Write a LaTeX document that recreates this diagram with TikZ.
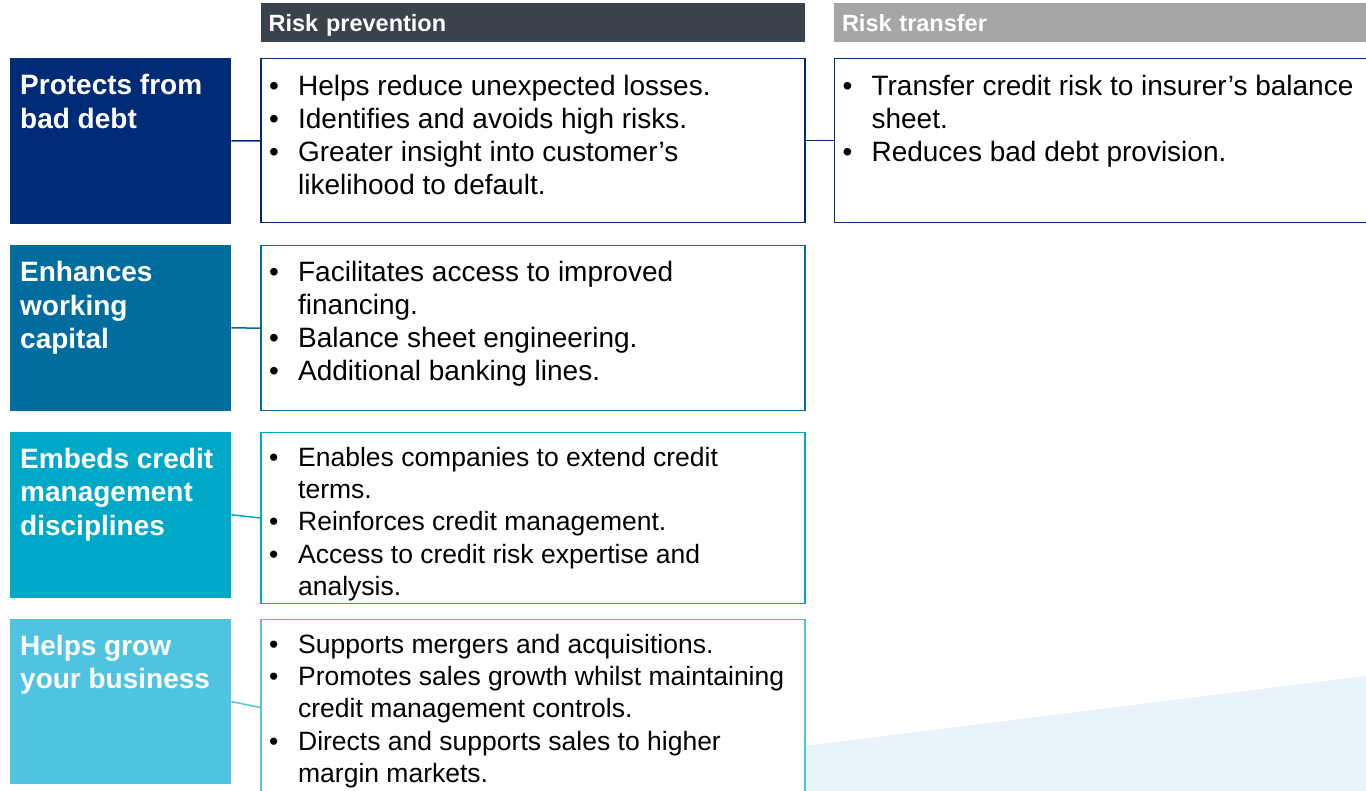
\documentclass[tikz,border=0pt]{standalone}
\usepackage{fontspec}
\setmainfont{Liberation Sans}
\usetikzlibrary{positioning}

\definecolor{navy}{HTML}{002C77}
\definecolor{ocean}{HTML}{006D9E}
\definecolor{lagoon}{HTML}{00A8C8}
\definecolor{sky}{HTML}{4FC3E0}
\definecolor{slate}{HTML}{3A434B}
\definecolor{ash}{HTML}{A6A6A6}
\definecolor{mist}{HTML}{E8F4FA}

% one bullet point, hanging indent after the first line
\newcommand{\bul}[1]{\noindent\hangindent=29pt\hangafter=1\strut\makebox[29pt][l]{\textbullet}#1\par}
% fixed-size cell, text starts at the top: height, width, top gap, text
\newcommand{\cellbox}[4]{\parbox[t][#1][t]{#2}{\vspace*{#3}#4}}
% body text, the lower two boxes are set a little tighter
\newcommand{\roomy}{\fontsize{28}{33}\selectfont}
\newcommand{\snug}{\fontsize{26.5}{32.2}\selectfont}

\begin{document}
\begin{tikzpicture} [
	node distance=21pt,
	aim/.style={
		rectangle,fill=#1,text=white,inner xsep=10pt,inner ysep=0pt,
		font=\fontsize{28}{33.5}\selectfont\bfseries
	},
	perks/.style={
		rectangle,draw=#1,line width=1.5pt,fill=white,
		inner xsep=8pt,inner ysep=0pt,font=\roomy
	},
	banner/.style={
		rectangle,fill=#1,text=white,inner xsep=8pt,inner ysep=0pt,
		text height=29pt,text depth=10pt,align=left,
		font=\fontsize{23.5}{28}\selectfont\bfseries
	},
	tie/.style={draw=#1,line width=1.5pt}
]
\fill [white] (0pt,0pt) rectangle (1366pt,-791pt);
\useasboundingbox (0pt,0pt) rectangle (1366pt,-791pt);
% pale wedge in the lower right corner
\fill [mist] (780pt,-749pt) -- (1366pt,-676pt) -- (1366pt,-791pt) -- (780pt,-791pt) -- cycle;

% benefits down the left
\node [aim=navy,anchor=north west]	(protect) at (10pt,-58pt)
	{\cellbox{165.5pt}{201pt}{13pt}{\strut Protects from\\bad debt}};
\node [aim=ocean]	(enhance)[below=of protect]
	{\cellbox{165.5pt}{201pt}{13pt}{\strut Enhances\\working\\capital}};
\node [aim=lagoon]	(embed)[below=of enhance]
	{\cellbox{165.5pt}{201pt}{13pt}{\strut Embeds credit\\management\\disciplines}};
\node [aim=sky]	(grow)[below=of embed]
	{\cellbox{165.5pt}{201pt}{13pt}{\strut Helps grow\\your business}};

% risk prevention column
\node [perks=navy,right=29pt of protect.north east,anchor=north west]	(protectlist)
	{\cellbox{164pt}{528pt}{13.2pt}{%
		\bul{Helps reduce unexpected losses.}
		\bul{Identifies and avoids high risks.}
		\bul{Greater insight into customer’s\\likelihood to default.}}};
\node [perks=ocean,right=29pt of enhance.north east,anchor=north west]	(enhancelist)
	{\cellbox{165pt}{528pt}{13.2pt}{%
		\bul{Facilitates access to improved\\financing.}
		\bul{Balance sheet engineering.}
		\bul{Additional banking lines.}}};
\node [perks=lagoon,font=\snug,right=29pt of embed.north east,anchor=north west]	(embedlist)
	{\cellbox{171pt}{528pt}{11.5pt}{%
		\bul{Enables companies to extend credit\\terms.}
		\bul{Reinforces credit management.}
		\bul{Access to credit risk expertise and\\analysis.}}};
\node [perks=sky,font=\snug,right=29pt of grow.north east,anchor=north west]	(growlist)
	{\cellbox{176pt}{528pt}{11.5pt}{%
		\bul{Supports mergers and acquisitions.}
		\bul{Promotes sales growth whilst maintaining\\credit management controls.}
		\bul{Directs and supports sales to higher\\margin markets.}}};

% column headings
\node [banner=slate,above=16pt of protectlist.north west,anchor=south west,text width=528pt]	(prevhead)
	{Risk prevention};
\node [banner=ash,right=29pt of prevhead,text width=517pt]	(transferhead)
	{Risk transfer};

% risk transfer column
\node [perks=navy,below=16pt of transferhead.south west,anchor=north west]	(transferlist)
	{\cellbox{164pt}{536pt}{13.2pt}{%
		\bul{Transfer credit risk to insurer’s balance\\sheet.}
		\bul{Reduces bad debt provision.}}};

\draw [tie=navy]	(protect.east) -- (protectlist.west);
\draw [tie=navy]	(protectlist.east) -- (transferlist.west);
\draw [tie=ocean]	(enhance.east) -- (enhancelist.west);
\draw [tie=lagoon]	(embed.east) -- (embedlist.west);
\draw [tie=sky]	(grow.east) -- (growlist.west);
\end{tikzpicture}
\end{document}
